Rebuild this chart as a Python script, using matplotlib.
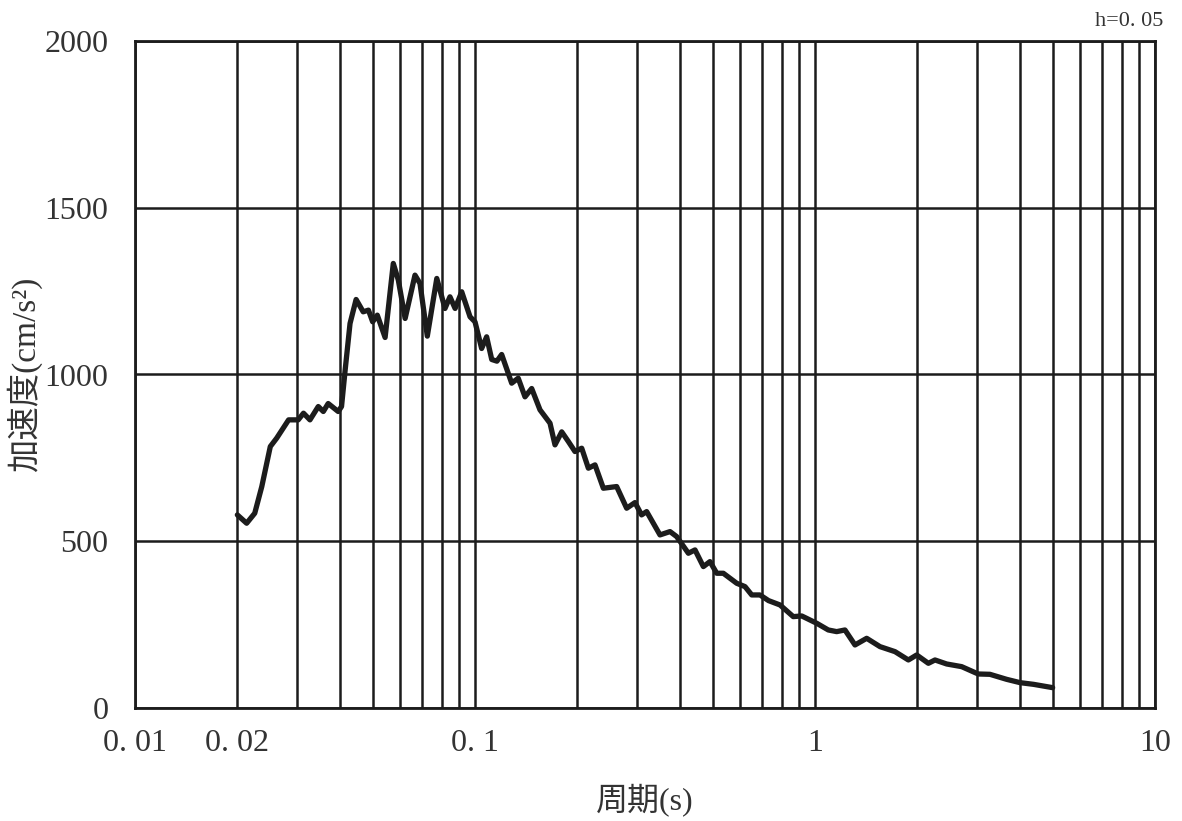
import matplotlib
matplotlib.use("Agg")
import matplotlib.pyplot as plt
from matplotlib.ticker import FixedLocator, NullFormatter

# ── Data ──────────────────────────────────────────────────────────────────────

period = [0.0200, 0.0213, 0.0225, 0.0236, 0.0250, 0.0261, 0.0283, 0.0302, 0.0313,
          0.0327, 0.0346, 0.0358, 0.0370, 0.0396, 0.0405, 0.0415, 0.0429, 0.0447,
          0.0469, 0.0486, 0.0500, 0.0516, 0.0544, 0.0575, 0.0595, 0.0623, 0.0666,
          0.0689, 0.0724, 0.0772, 0.0816, 0.0844, 0.0874, 0.0914, 0.0967, 0.1000,
          0.1046, 0.1082, 0.1120, 0.1160, 0.1198, 0.1282, 0.1340, 0.1403, 0.1468,
          0.1553, 0.1662, 0.1719, 0.1799, 0.1882, 0.1968, 0.2060, 0.2155, 0.2254,
          0.2385, 0.2610, 0.2793, 0.2955, 0.3090, 0.3198, 0.3500, 0.3746, 0.3919,
          0.4242, 0.4437, 0.4695, 0.4910, 0.5140, 0.5375, 0.5885, 0.6225, 0.6515,
          0.6890, 0.730, 0.789, 0.863, 0.914, 1.012, 1.094, 1.158, 1.225, 1.311,
          1.419, 1.553, 1.719, 1.882, 1.991, 2.155, 2.254, 2.439, 2.70, 3.02,
          3.27, 3.66, 4.01, 4.39, 5.0]
accel = [579, 554, 584, 664, 784, 809, 864, 864, 884,
         864, 904, 889, 913, 889, 904, 1013, 1153, 1225,
         1188, 1193, 1158, 1178, 1111, 1333, 1283, 1168, 1298,
         1273, 1115, 1288, 1198, 1233, 1198, 1248, 1173, 1158,
         1078, 1113, 1045, 1040, 1060, 974, 989, 933, 958,
         894, 854, 789, 828, 799, 769, 779, 719, 729,
         659, 664, 599, 616, 579, 589, 519, 529, 514,
         464, 474, 424, 439, 404, 404, 374, 364, 339,
         339, 322, 309, 274, 276, 254, 234, 229, 234, 189,
         209, 184, 169, 144, 159, 134, 144, 132, 124, 102,
         101, 86, 76, 71, 61]

x_major = [0.01, 0.02, 0.1, 1, 10]
x_major_labels = ["0. 01", "0. 02", "0. 1", "1", "10"]
x_minor = [0.03, 0.04, 0.05, 0.06, 0.07, 0.08, 0.09,
           0.2, 0.3, 0.4, 0.5, 0.6, 0.7, 0.8, 0.9,
           2, 3, 4, 5, 6, 7, 8, 9]
y_ticks = [0, 500, 1000, 1500, 2000]

SERIF = ["Liberation Serif", "Noto Sans CJK JP", "DejaVu Sans"]
INK = "#1c1c1c"
TEXT = "#333333"

# ── Plot ──────────────────────────────────────────────────────────────────────

fig = plt.figure(figsize=(11.82, 8.21), dpi=100)
ax = fig.add_axes([135 / 1182, 113 / 821, 1020 / 1182, 667 / 821])

ax.plot(period, accel, color=INK, linewidth=3.8,
        solid_joinstyle="round", solid_capstyle="round", zorder=3)

ax.set_xscale("log")
ax.set_xlim(0.01, 10)
ax.set_ylim(0, 2000)

ax.xaxis.set_major_locator(FixedLocator(x_major))
ax.xaxis.set_minor_locator(FixedLocator(x_minor))
ax.xaxis.set_minor_formatter(NullFormatter())
ax.set_xticklabels(x_major_labels)
ax.set_yticks(y_ticks)

ax.grid(True, which="both", axis="x", color=INK, linewidth=1.8)
ax.grid(True, which="major", axis="y", color=INK, linewidth=1.8)
ax.set_axisbelow(True)
for sp in ax.spines.values():
    sp.set_color(INK)
    sp.set_linewidth(2.0)

ax.tick_params(which="both", length=0)
ax.tick_params(axis="x", pad=15)
ax.tick_params(axis="y", pad=19)
for lbl in ax.get_xticklabels() + ax.get_yticklabels():
    lbl.set_family(SERIF)
    lbl.set_fontsize(23)
    lbl.set_color(TEXT)

ax.set_xlabel("周期(s)", family=SERIF, fontsize=23, color=TEXT, labelpad=18)
ax.set_ylabel("加速度(cm/s²)", family=SERIF, fontsize=24, color=TEXT, labelpad=2)

fig.text(1163 / 1182, 1 - 22 / 821, "h=0. 05", family=SERIF, fontsize=16,
         color=TEXT, ha="right", va="center")

fig.savefig("out.png", dpi=100)
